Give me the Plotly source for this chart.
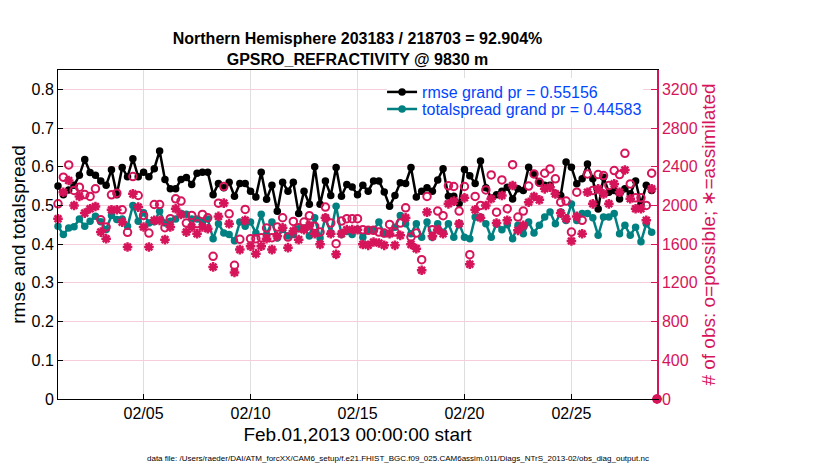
import pandas as pd
import plotly.graph_objects as go

# 6-hourly bins, Feb 1 00:00 through Mar 1 00:00
times = pd.date_range('2013-02-01 00:00', periods=113, freq='6h')

rmse = [0.550, 0.528, 0.540, 0.552, 0.578, 0.619, 0.585, 0.578, 0.563, 0.552,
        0.592, 0.528, 0.598, 0.574, 0.621, 0.574, 0.586, 0.574, 0.595, 0.641,
        0.567, 0.543, 0.543, 0.567, 0.572, 0.554, 0.583, 0.586, 0.586, 0.528,
        0.557, 0.546, 0.560, 0.524, 0.557, 0.557, 0.537, 0.522, 0.586, 0.516,
        0.552, 0.485, 0.560, 0.537, 0.560, 0.479, 0.537, 0.503, 0.600, 0.503,
        0.563, 0.526, 0.598, 0.524, 0.554, 0.548, 0.528, 0.552, 0.537, 0.563,
        0.563, 0.535, 0.498, 0.526, 0.559, 0.557, 0.598, 0.522, 0.537, 0.546,
        0.537, 0.566, 0.595, 0.524, 0.524, 0.505, 0.593, 0.577, 0.557, 0.615,
        0.546, 0.520, 0.528, 0.537, 0.547, 0.517, 0.543, 0.539, 0.599, 0.582,
        0.558, 0.552, 0.552, 0.530, 0.526, 0.612, 0.599, 0.556, 0.569, 0.607,
        0.569, 0.491, 0.573, 0.534, 0.539, 0.517, 0.543, 0.530, 0.563, 0.504,
        0.552, 0.539, None]

totalspread = [0.446, 0.425, 0.442, 0.445, 0.465, 0.446, 0.459, 0.472, 0.458, 0.438,
               0.474, 0.464, 0.465, 0.446, 0.500, 0.459, 0.481, 0.455, 0.458, 0.485,
               0.455, 0.459, 0.465, 0.479, 0.477, 0.465, 0.465, 0.457, 0.465, 0.414,
               0.453, 0.429, 0.425, 0.409, 0.457, 0.446, 0.457, 0.429, 0.477, 0.425,
               0.457, 0.416, 0.438, 0.421, 0.425, 0.440, 0.442, 0.421, 0.468, 0.416,
               0.468, 0.429, 0.498, 0.425, 0.433, 0.425, 0.438, 0.418, 0.437, 0.436,
               0.457, 0.427, 0.427, 0.444, 0.474, 0.453, 0.427, 0.453, 0.418, 0.457,
               0.418, 0.453, 0.431, 0.453, 0.418, 0.453, 0.418, 0.414, 0.470, 0.470,
               0.453, 0.418, 0.453, 0.437, 0.450, 0.414, 0.449, 0.427, 0.457, 0.429,
               0.449, 0.470, 0.483, 0.453, 0.483, 0.461, 0.504, 0.461, 0.479, 0.479,
               0.468, 0.423, 0.470, 0.470, 0.479, 0.427, 0.449, 0.423, 0.444, 0.406,
               0.453, 0.431, None]

obs_possible = [2017, 2292, 2419, 2155, 2189, 2113, 2093, 2172, 1852, 1777,
                2110, 2127, 1955, 1722, 2299, 2103, 1897, 1715, 2010, 2010,
                1770, 1863, 2069, 2045, 1818, 1897, 1811, 1907, 1873, 1475,
                2024, 2196, 1914, 1382, 1650, 1959, 1657, 1657, 1667, 1767,
                1667, 1777, 1873, 1674, 1835, 1770, 1828, 1894, 1784, 1725,
                1983, 1818, 1605, 1839, 1863, 1863, 1863, 1750, 1743, 1743,
                1725, 1715, 1804, 1725, 1818, 1976, 1674, 1715, 1440, 2093,
                1750, 1942, 1894, 2203, 2196, 1942, 2196, 1492, 2093, 2000,
                2161, 2316, 1931, 2264, 1966, 2422, 1880, 1942, 2200, 2326,
                2240, 2333, 2378, 2275, 2034, 2045, 1725, 2137, 1846, 2326,
                2155, 2319, 2309, 2206, 2361, 2319, 2539, 2223, 2079, 2079,
                2000, 2333, 0]

obs_assim = [1863, 2137, 2258, 2000, 2093, 1921, 1966, 1990, 1725, 1657,
             1955, 1955, 1828, 1571, 2120, 1983, 1777, 1571, 1846, 1846,
             1647, 1777, 1966, 1907, 1725, 1777, 1708, 1777, 1760, 1365,
             1887, 2024, 1811, 1307, 1544, 1846, 1578, 1502, 1578, 1657,
             1544, 1681, 1770, 1564, 1736, 1647, 1750, 1794, 1708, 1598,
             1873, 1708, 1495, 1708, 1750, 1750, 1750, 1598, 1588, 1622,
             1612, 1588, 1708, 1588, 1691, 1873, 1598, 1554, 1331, 1931,
             1681, 1750, 1708, 2017, 2045, 1811, 2079, 1392, 1955, 1873,
             2000, 2069, 1818, 2103, 1846, 2206, 1743, 1794, 2034, 2093,
             2058, 2172, 2189, 2120, 1921, 1863, 1633, 1887, 1708, 2137,
             2017, 2172, 2120, 2017, 2223, 2137, 2367, 2069, 1966, 1966,
             1846, 2172, 0]

date_ticks = ['2013-02-05', '2013-02-10', '2013-02-15', '2013-02-20', '2013-02-25']
date_labels = ['02/05', '02/10', '02/15', '02/20', '02/25']

crimson = 'rgb(214, 20, 90)'
teal = 'rgb(0, 128, 128)'
blue = 'rgb(0, 70, 255)'
font = 'Liberation Sans, Arial, sans-serif'

data = [
    go.Scatter(x=times, y=obs_possible, yaxis='y2', mode='markers',
               marker=dict(symbol='circle-open', size=7.5, color=crimson,
                           line=dict(width=2, color=crimson)),
               showlegend=False, cliponaxis=False),
    go.Scatter(x=times, y=obs_assim, yaxis='y2', mode='markers',
               marker=dict(symbol='asterisk-open', size=8, color=crimson,
                           line=dict(width=2.5, color=crimson)),
               showlegend=False, cliponaxis=False),
    go.Scatter(x=times, y=rmse, mode='lines+markers',
               name='rmse grand pr = 0.55156', legend='legend',
               line=dict(color='black', width=2.5),
               marker=dict(symbol='circle', size=7.5, color='black'),
               cliponaxis=False),
    go.Scatter(x=times, y=totalspread, mode='lines+markers',
               name='totalspread grand pr = 0.44583', legend='legend2',
               line=dict(color=teal, width=2.5),
               marker=dict(symbol='circle', size=7.5, color=teal),
               cliponaxis=False),
]

# page body adds an 8px offset, so the figure is drawn 8px smaller
W, H = 822, 462
legend_style = dict(xanchor='left', x=0.541, yanchor='middle',
                    bgcolor='rgba(0,0,0,0)', borderwidth=0,
                    font=dict(size=16, color=blue), itemwidth=30)

layout = go.Layout(
    width=W, height=H,
    margin=dict(l=50, r=173, t=62, b=71),
    paper_bgcolor='white', plot_bgcolor='white',
    font=dict(family=font, size=16, color='black'),
    title=dict(text='<b>Northern Hemisphere 203183 / 218703 = 92.904%</b><br>'
                    '<b>GPSRO_REFRACTIVITY @ 9830 m</b>',
               font=dict(size=16, color='black'),
               x=0.5, xref='paper', xanchor='center',
               y=1 - 36 / H, yref='container', yanchor='top'),
    xaxis=dict(type='date', range=['2013-02-01', '2013-03-01'],
               tickvals=date_ticks, ticktext=date_labels,
               ticks='inside', ticklen=5, tickcolor='black',
               showline=True, linecolor='black', linewidth=1, mirror=True,
               showgrid=True, gridcolor='rgb(222, 222, 222)', gridwidth=1,
               zeroline=False, automargin=False,
               title=dict(text='Feb.01,2013 00:00:00 start', standoff=6)),
    yaxis=dict(range=[0, 0.85], dtick=0.1, tick0=0,
               ticks='inside', ticklen=5, tickcolor='black',
               showline=True, linecolor='black', linewidth=1,
               showgrid=True, gridcolor='rgb(245, 205, 220)', gridwidth=1,
               zeroline=False, automargin=False,
               title=dict(text='rmse and totalspread', standoff=1)),
    yaxis2=dict(range=[0, 3400], dtick=400, tick0=0, overlaying='y', side='right',
                ticks='inside', ticklen=6, tickcolor=crimson,
                tickfont=dict(color=crimson),
                showline=True, linecolor=crimson, linewidth=1.5,
                showgrid=False, zeroline=False, automargin=False,
                title=dict(text='# of obs: o=possible; \u2217=assimilated',
                           font=dict(color=crimson), standoff=2)),
    legend=dict(y=0.933, **legend_style),
    legend2=dict(y=0.881, **legend_style),
    # white backing box behind the two legend rows
    shapes=[dict(type='rect', xref='paper', yref='paper', layer='above',
                 x0=0.549, x1=0.977, y0=0.857, y1=0.976,
                 fillcolor='white', line=dict(width=0))],
    annotations=[dict(text='data file: /Users/raeder/DAI/ATM_forcXX/CAM6_setup/'
                           'f.e21.FHIST_BGC.f09_025.CAM6assim.011/Diags_NTrS_2013-02/'
                           'obs_diag_output.nc',
                      xref='paper', yref='paper', x=(390 - 50) / 599, y=-0.182,
                      xanchor='center', yanchor='middle', showarrow=False,
                      font=dict(size=8, color='black'))],
)

fig = go.Figure(data=data, layout=layout)
fig.write_html('out.html')
